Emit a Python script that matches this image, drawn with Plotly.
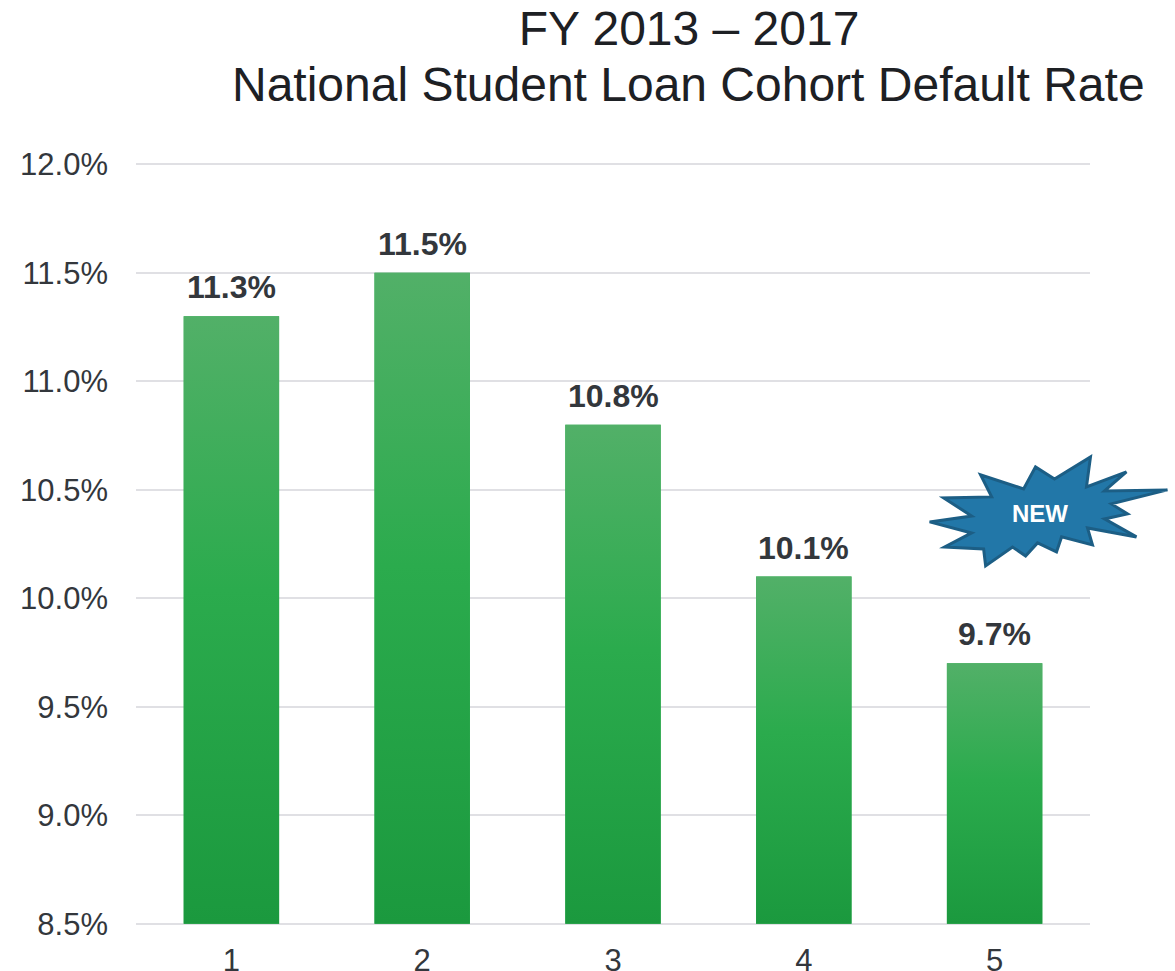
import plotly.graph_objects as go

categories = [1, 2, 3, 4, 5]
rates = [11.3, 11.5, 10.8, 10.1, 9.7]
rate_labels = ["11.3%", "11.5%", "10.8%", "10.1%", "9.7%"]
y_ticks = [8.5, 9.0, 9.5, 10.0, 10.5, 11.0, 11.5, 12.0]
y_tick_labels = ["8.5%", "9.0%", "9.5%", "10.0%", "10.5%", "11.0%", "11.5%", "12.0%"]
title_line_1 = "FY 2013 – 2017"
title_line_2 = "National Student Loan Cohort Default Rate"
badge_text = "NEW"
# outline of the decorative burst, in page pixels
burst_px = [(930, 522), (972, 516), (944, 498), (992, 497), (981, 475), (1024, 489),
            (1036, 467), (1055, 479), (1091, 457), (1087, 487), (1127, 472), (1105, 491),
            (1168, 490), (1112, 504), (1128, 514), (1105, 519), (1137, 537), (1088, 528),
            (1093, 545), (1062, 537), (1057, 552), (1038, 543), (1026, 556), (1013, 547),
            (986, 566), (984, 549), (945, 547), (972, 533)]

W, H = 1175, 971
L, R, T, B = 135.5, 84.5, 163.4, 46.3
AXIS_FLOOR, AXIS_TOP = 8.5, 12.0
AXIS_PAD = 0.006  # keeps the gridlines at both range ends from being dropped
TEXT = "#33373c"
FONT = "Liberation Sans, Arial, sans-serif"
GRADIENT = [[0, "#1b993e"], [0.55, "#2bab4d"], [1, "#52b068"]]
HALF = 0.25


def px_to_paper(x, y):
    return (x - L) / (W - L - R), (H - B - y) / (H - T - B)


fig = go.Figure()
fig.add_trace(go.Bar(
    x=categories, y=[v - AXIS_FLOOR for v in rates], base=AXIS_FLOOR, width=2 * HALF,
    marker=dict(color="#2bab4d", line_width=0), hoverinfo="skip",
))
for c, v, label in zip(categories, rates, rate_labels):
    fig.add_trace(go.Scatter(
        x=[c - HALF, c - HALF, c + HALF, c + HALF, c - HALF],
        y=[AXIS_FLOOR, v, v, AXIS_FLOOR, AXIS_FLOOR],
        mode="lines", line=dict(width=0), fill="toself", hoverinfo="skip",
        fillgradient=dict(type="vertical", colorscale=GRADIENT),
    ))
    fig.add_annotation(x=c, y=v, text=f"<b>{label}</b>", showarrow=False, yanchor="middle",
                       yshift=29, font=dict(family=FONT, size=32, color=TEXT))

path_points = [px_to_paper(*p) for p in burst_px]
path = "M " + " L ".join(f"{x:.4f},{y:.4f}" for x, y in path_points) + " Z"
fig.add_shape(type="path", xref="paper", yref="paper", path=path,
              fillcolor="#2277a8", line=dict(color="#1c5e85", width=3), layer="above")
bx, by = px_to_paper(1040, 514)
fig.add_annotation(x=bx, y=by, xref="paper", yref="paper", text=f"<b>{badge_text}</b>",
                   xanchor="center", yanchor="middle", showarrow=False,
                   font=dict(family=FONT, size=24, color="white"))
tx, ty = px_to_paper(689, 85)
fig.add_annotation(x=tx, y=ty, xref="paper", yref="paper", text=title_line_2,
                   xanchor="center", yanchor="middle", showarrow=False,
                   font=dict(family=FONT, size=48, color="#1d2024"))

fig.update_layout(
    width=W, height=H, margin=dict(l=L, r=R, t=T, b=B, autoexpand=False),
    paper_bgcolor="white", plot_bgcolor="white", showlegend=False, barmode="overlay",
    font=dict(family=FONT, color=TEXT),
    title=dict(text=title_line_1, x=689 / W, xanchor="center", y=1 - 28 / H, yanchor="middle",
               font=dict(family=FONT, size=48, color="#1d2024")),
    xaxis=dict(range=[0.5, 5.5], tickmode="array", tickvals=categories, showgrid=False,
               zeroline=False, showline=False, ticks="", ticklabelstandoff=14,
               tickfont=dict(size=31, color=TEXT)),
    yaxis=dict(range=[AXIS_FLOOR - AXIS_PAD, AXIS_TOP + AXIS_PAD], tickmode="array", tickvals=y_ticks,
               ticktext=y_tick_labels, gridcolor="#e0e0e4", gridwidth=2, zeroline=False,
               showline=False, ticks="", ticklabelstandoff=27, tickfont=dict(size=31, color=TEXT)),
)
fig.write_html("out.html", post_script="document.body.style.margin='0';",
               config={"displayModeBar": False})
